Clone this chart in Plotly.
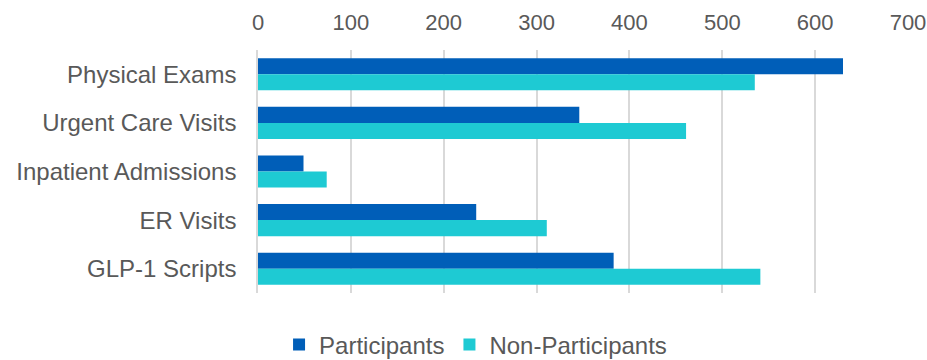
import plotly.graph_objects as go

categories = ["Physical Exams", "Urgent Care Visits", "Inpatient Admissions", "ER Visits", "GLP-1 Scripts"]
participants = [630, 346, 49, 235, 383]
non_participants = [535, 461, 74, 311, 541]
tick_vals = [0, 100, 200, 300, 400, 500, 600, 700]

FONT = "Liberation Sans, Arial, sans-serif"
GREY = "#595959"

fig = go.Figure()
fig.add_trace(go.Bar(y=categories, x=participants, orientation="h", name="Participants",
                     marker=dict(color="#005EB8", line=dict(width=0))))
fig.add_trace(go.Bar(y=categories, x=non_participants, orientation="h", name="Non-Participants",
                     marker=dict(color="#1ECAD3", line=dict(width=0))))

fig.update_layout(
    width=927, height=360,
    margin=dict(l=258, r=19, t=50, b=67, autoexpand=False),
    paper_bgcolor="white", plot_bgcolor="white",
    barmode="group", bargap=0.34, bargroupgap=0,
    font=dict(family=FONT, color=GREY, size=22),
    showlegend=True,
    legend=dict(orientation="h", xref="container", yref="container",
                x=0.513, xanchor="center", y=1 - 345 / 360, yanchor="middle",
                font=dict(size=24, color=GREY), traceorder="normal",
                itemwidth=30, entrywidth=0),
    xaxis=dict(side="top", range=[0, 700], tickvals=tick_vals, showgrid=True,
               gridcolor="#d9d9d9", gridwidth=1.5, zeroline=False, showline=False,
               automargin=False,
               ticks="", ticklabelstandoff=15, tickfont=dict(size=22, color=GREY)),
    yaxis=dict(autorange="reversed", showgrid=False, zeroline=False, showline=True,
               automargin=False,
               linecolor="#d9d9d9", linewidth=1.5, ticks="", ticklabelstandoff=15,
               tickfont=dict(size=24, color=GREY)),
)

fig.write_html("out.html")
